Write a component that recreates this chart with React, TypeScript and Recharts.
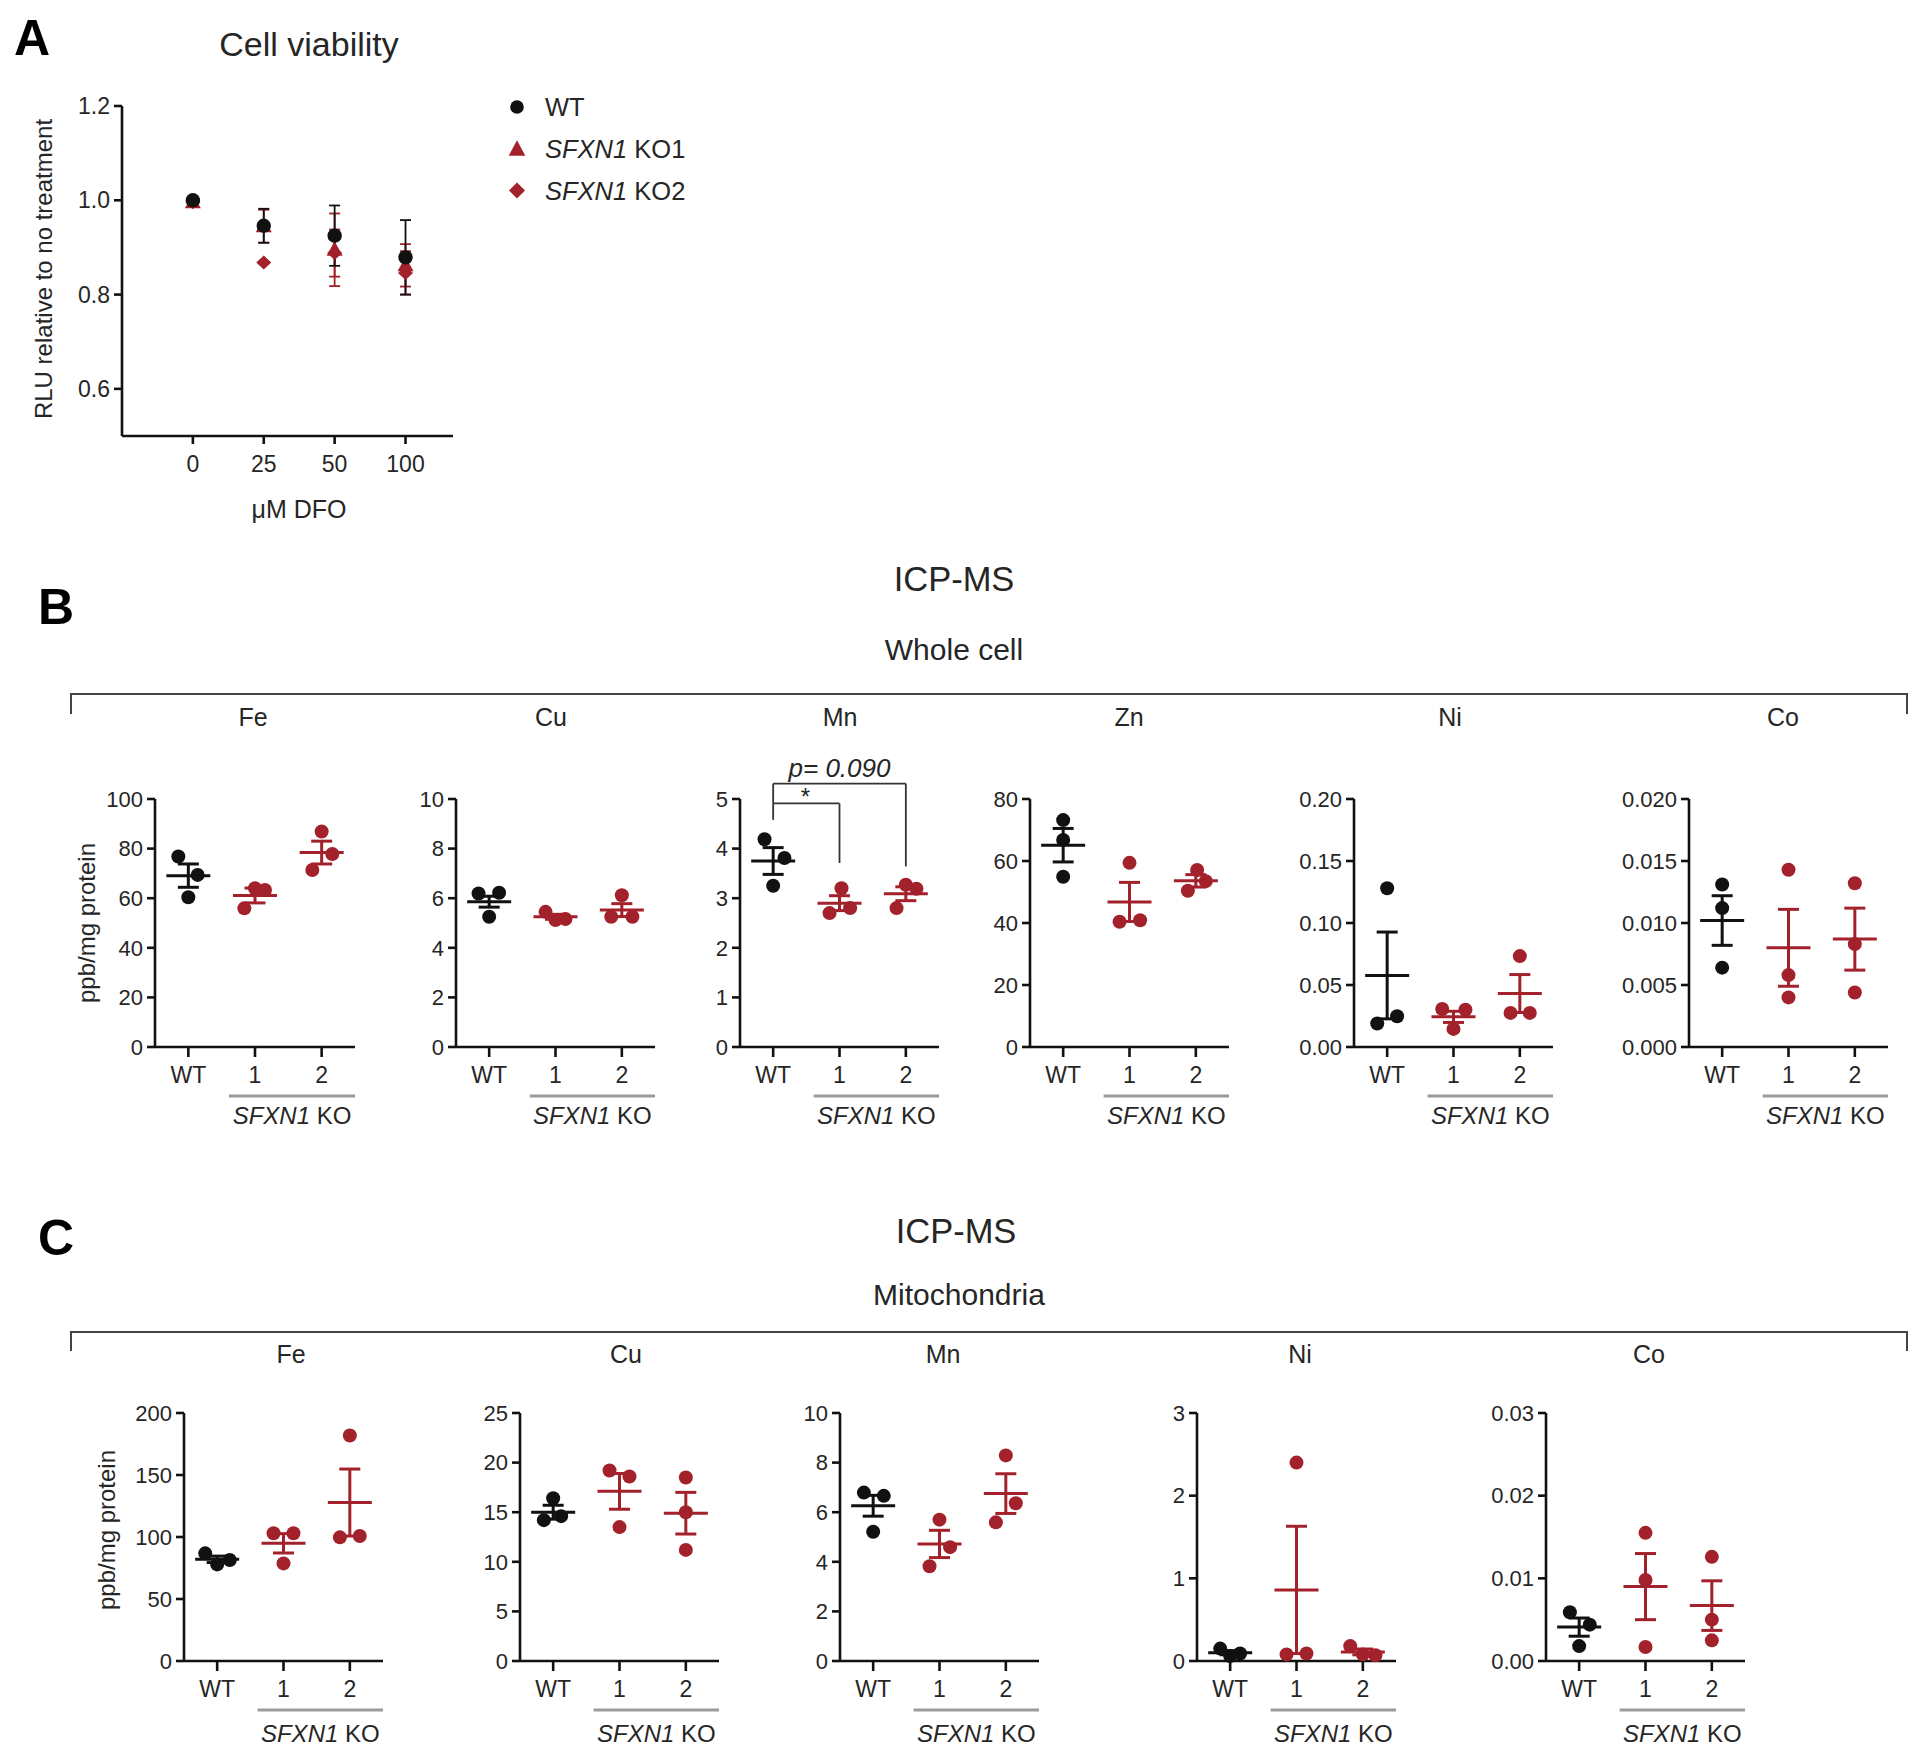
import React from 'react';
import { ScatterChart, Scatter, XAxis, YAxis, ErrorBar, ReferenceLine, ReferenceDot, Legend } from 'recharts';

const FONT = '"Liberation Sans", Arial, Helvetica, sans-serif';
const INK = '#111111';
const TXT = '#262626';
const RED = '#A3212B';
const GREY = '#9b9b9b';

const GROUPS = ['WT', '1', '2'];
const GROUP_COLORS = [INK, RED, RED];

// ---------- Panel A : cell viability ----------
const DFO_DOSES = ['0', '25', '50', '100'];
const A_Y_TICKS = [0.6, 0.8, 1.0, 1.2];
const A_SERIES = ['WT', 'SFXN1 KO1', 'SFXN1 KO2'];
const A_WT = [1.0, 0.946, 0.925, 0.879];
const A_WT_SEM = [0.004, 0.036, 0.064, 0.079];
const A_KO1 = [0.996, 0.945, 0.895, 0.862];
const A_KO1_SEM = [0.008, 0.035, 0.077, 0.045];
const A_KO2 = [0.996, 0.868, 0.888, 0.846];
const A_KO2_SEM = [0.006, 0.002, 0.05, 0.046];

// ---------- Panel B : whole cell ----------
const B_FE = [[76.8, 69.4, 60.4], [55.9, 64.0, 63.3], [86.9, 77.8, 71.4]];
const B_FE_MEAN = [69.1, 61.1, 78.4];
const B_FE_SEM = [4.7, 3.0, 4.6];
const B_CU = [[6.19, 6.22, 5.25], [5.45, 5.12, 5.16], [6.12, 5.25, 5.25]];
const B_CU_MEAN = [5.86, 5.25, 5.52];
const B_CU_SEM = [0.22, 0.1, 0.26];
const B_MN = [[4.19, 3.81, 3.25], [3.2, 2.7, 2.8], [3.27, 3.19, 2.8]];
const B_MN_MEAN = [3.75, 2.9, 3.09];
const B_MN_SEM = [0.27, 0.15, 0.14];
const B_ZN = [[73.2, 66.8, 54.9], [59.4, 40.4, 40.9], [57.1, 53.5, 50.4]];
const B_ZN_MEAN = [65.1, 46.8, 53.6];
const B_ZN_SEM = [5.4, 6.3, 2.0];
const B_NI = [[0.128, 0.0248, 0.019], [0.0307, 0.03, 0.0146], [0.0733, 0.0275, 0.0275]];
const B_NI_MEAN = [0.0577, 0.0243, 0.0431];
const B_NI_SEM = [0.035, 0.0045, 0.0153];
const B_CO = [[0.0131, 0.0112, 0.0064], [0.0143, 0.0058, 0.004], [0.0132, 0.0083, 0.0044]];
const B_CO_MEAN = [0.0102, 0.008, 0.0087];
const B_CO_SEM = [0.002, 0.0031, 0.0025];
const MN_SIG = [
  { from: 0, to: 1, y: 4.91, drops: [4.58, 3.71], label: '*', labelX: 0.47, labelY: 5.07 },
  { from: 0, to: 2, y: 5.31, drops: [4.91, 3.64], label: 'p= 0.090', labelX: 1.0, labelY: 5.63 },
];

// ---------- Panel C : mitochondria ----------
const C_FE = [[86.8, 77.9, 81.4], [103, 103, 78.7], [181.9, 99.7, 100.8]];
const C_FE_MEAN = [82.0, 94.9, 127.8];
const C_FE_SEM = [2.6, 7.8, 27.0];
const C_CU = [[16.4, 14.6, 14.2], [19.2, 18.6, 13.5], [18.5, 15.0, 11.2]];
const C_CU_MEAN = [15.0, 17.1, 14.9];
const C_CU_SEM = [0.7, 1.8, 2.1];
const C_MN = [[6.79, 6.66, 5.21], [5.7, 4.59, 3.82], [8.29, 6.36, 5.59]];
const C_MN_MEAN = [6.26, 4.72, 6.75];
const C_MN_SEM = [0.42, 0.55, 0.8];
const C_NI = [[0.15, 0.09, 0.06], [2.4, 0.08, 0.09], [0.18, 0.08, 0.07]];
const C_NI_MEAN = [0.1, 0.86, 0.11];
const C_NI_SEM = [0.025, 0.77, 0.035];
const C_CO = [[0.0059, 0.0044, 0.0018], [0.0155, 0.0098, 0.0017], [0.0126, 0.005, 0.0025]];
const C_CO_MEAN = [0.0041, 0.009, 0.0067];
const C_CO_SEM = [0.0011, 0.004, 0.003];

// ---------- layout (not data) ----------
const J0 = [[0, 0, 0], [0, 0, 0], [0, 0, 0]];
const JIT = {
  bFe: [[-0.15, 0.14, 0], [-0.16, 0, 0.15], [0, 0.16, -0.14]],
  bCu: [[-0.16, 0.15, 0], [-0.15, 0, 0.15], [0, -0.16, 0.16]],
  bMn: [[-0.13, 0.17, 0], [0.03, -0.15, 0.16], [0, 0.16, -0.14]],
  bZn: [[0, 0, 0], [0, -0.15, 0.16], [0.02, 0.15, -0.12]],
  bNi: [[0, 0.15, -0.15], [-0.17, 0.18, 0], [0, -0.14, 0.15]],
  cFe: [[-0.18, 0, 0.19], [-0.15, 0.15, 0], [0, -0.15, 0.15]],
  cCu: [[0, 0.12, -0.14], [-0.15, 0.15, 0], [0, 0, 0]],
  cMn: [[-0.14, 0.16, 0], [0, 0.16, -0.15], [0, 0.15, -0.15]],
  cNi: [[-0.15, 0.15, 0], [0, -0.15, 0.15], [-0.19, 0, 0.19]],
  cCo: [[-0.14, 0.16, 0], [0, 0, 0], [0, 0, 0]],
};

const B_TOP = 799, C_TOP = 1413, PH = 248, BW = 199, CW = 199;

const SUBPLOTS = [
  { el: 'Fe', elX: 253, axisX: 155, top: B_TOP, w: 200, yMax: 100, ticks: [0, 20, 40, 60, 80, 100], dec: 0, pts: B_FE, mean: B_FE_MEAN, sem: B_FE_SEM, jit: JIT.bFe },
  { el: 'Cu', elX: 551, axisX: 456, top: B_TOP, w: BW, yMax: 10, ticks: [0, 2, 4, 6, 8, 10], dec: 0, pts: B_CU, mean: B_CU_MEAN, sem: B_CU_SEM, jit: JIT.bCu },
  { el: 'Mn', elX: 840, axisX: 740, top: B_TOP, w: BW, yMax: 5, ticks: [0, 1, 2, 3, 4, 5], dec: 0, pts: B_MN, mean: B_MN_MEAN, sem: B_MN_SEM, jit: JIT.bMn, sig: MN_SIG },
  { el: 'Zn', elX: 1129, axisX: 1030, top: B_TOP, w: BW, yMax: 80, ticks: [0, 20, 40, 60, 80], dec: 0, pts: B_ZN, mean: B_ZN_MEAN, sem: B_ZN_SEM, jit: JIT.bZn },
  { el: 'Ni', elX: 1450, axisX: 1354, top: B_TOP, w: BW, yMax: 0.2, ticks: [0, 0.05, 0.1, 0.15, 0.2], dec: 2, pts: B_NI, mean: B_NI_MEAN, sem: B_NI_SEM, jit: JIT.bNi },
  { el: 'Co', elX: 1783, axisX: 1689, top: B_TOP, w: BW, yMax: 0.02, ticks: [0, 0.005, 0.01, 0.015, 0.02], dec: 3, pts: B_CO, mean: B_CO_MEAN, sem: B_CO_SEM, jit: J0 },
  { el: 'Fe', elX: 291, axisX: 184, top: C_TOP, w: CW, yMax: 200, ticks: [0, 50, 100, 150, 200], dec: 0, pts: C_FE, mean: C_FE_MEAN, sem: C_FE_SEM, jit: JIT.cFe },
  { el: 'Cu', elX: 626, axisX: 520, top: C_TOP, w: CW, yMax: 25, ticks: [0, 5, 10, 15, 20, 25], dec: 0, pts: C_CU, mean: C_CU_MEAN, sem: C_CU_SEM, jit: JIT.cCu },
  { el: 'Mn', elX: 943, axisX: 840, top: C_TOP, w: CW, yMax: 10, ticks: [0, 2, 4, 6, 8, 10], dec: 0, pts: C_MN, mean: C_MN_MEAN, sem: C_MN_SEM, jit: JIT.cMn },
  { el: 'Ni', elX: 1300, axisX: 1197, top: C_TOP, w: CW, yMax: 3, ticks: [0, 1, 2, 3], dec: 0, pts: C_NI, mean: C_NI_MEAN, sem: C_NI_SEM, jit: JIT.cNi },
  { el: 'Co', elX: 1649, axisX: 1546, top: C_TOP, w: CW, yMax: 0.03, ticks: [0, 0.01, 0.02, 0.03], dec: 2, pts: C_CO, mean: C_CO_MEAN, sem: C_CO_SEM, jit: JIT.cCo },
];

const dotShape = (color: string, r: number) => (p: any) => <circle cx={p.cx} cy={p.cy} r={r} fill={color} />;
const meanShape = (color: string) => (p: any) => (
  <line x1={p.cx - 22} x2={p.cx + 22} y1={p.cy} y2={p.cy} stroke={color} strokeWidth={3} />
);
const triShape = (color: string) => (p: any) => (
  <polygon points={`${p.cx},${p.cy - 8.5} ${p.cx - 8},${p.cy + 6} ${p.cx + 8},${p.cy + 6}`} fill={color} />
);
const diaShape = (color: string) => (p: any) => (
  <polygon points={`${p.cx},${p.cy - 7} ${p.cx + 7.5},${p.cy} ${p.cx},${p.cy + 7} ${p.cx - 7.5},${p.cy}`} fill={color} />
);

const axisLineStyle = { stroke: INK, strokeWidth: 2.6 };

function Subplot({ cfg }: { cfg: any }) {
  const ML = 90, MT = 75, MR = 12, MB = 45;
  const ptsData = cfg.pts.map((arr: number[], g: number) => arr.map((y, i) => ({ x: g + cfg.jit[g][i], y })));
  const meanData = cfg.mean.map((m: number, g: number) => ({ x: g, y: m, e: cfg.sem[g] }));
  return (
    <div style={{ position: 'absolute', left: cfg.axisX - ML, top: cfg.top - MT }}>
      <ScatterChart width={ML + cfg.w + MR} height={MT + PH + MB} margin={{ top: MT, right: MR, bottom: 0, left: 0 }}>
        <XAxis
          type="number" dataKey="x" domain={[-0.5, 2.5]} ticks={[0, 1, 2]} interval={0}
          tickFormatter={(v: number) => GROUPS[v]} height={MB} tickSize={10} tickMargin={10}
          axisLine={axisLineStyle} tickLine={axisLineStyle}
          tick={{ fill: TXT, fontSize: 23, fontFamily: FONT }}
        />
        <YAxis
          type="number" dataKey="y" domain={[0, cfg.yMax]} ticks={cfg.ticks} interval={0}
          width={ML} tickSize={8} tickMargin={4}
          tickFormatter={(v: number) => v.toFixed(cfg.dec)}
          axisLine={axisLineStyle} tickLine={axisLineStyle}
          tick={{ fill: TXT, fontSize: 22, fontFamily: FONT }}
        />
        {ptsData.map((d: any[], g: number) => (
          <Scatter key={'p' + g} data={d} fill={GROUP_COLORS[g]} shape={dotShape(GROUP_COLORS[g], 7)} isAnimationActive={false} />
        ))}
        {meanData.map((d: any, g: number) => (
          <Scatter key={'m' + g} data={[d]} fill={GROUP_COLORS[g]} shape={meanShape(GROUP_COLORS[g])} isAnimationActive={false}>
            <ErrorBar dataKey="e" direction="y" width={10.5} stroke={GROUP_COLORS[g]} strokeWidth={3} isAnimationActive={false} />
          </Scatter>
        ))}
        {cfg.sig && cfg.sig.map((s: any, k: number) => [
          <ReferenceLine key={'h' + k} segment={[{ x: s.from, y: s.y }, { x: s.to, y: s.y }]} stroke="#333" strokeWidth={1.8} ifOverflow="visible" />,
          <ReferenceLine key={'a' + k} segment={[{ x: s.from, y: s.y }, { x: s.from, y: s.drops[0] }]} stroke="#333" strokeWidth={1.8} ifOverflow="visible" />,
          <ReferenceLine key={'b' + k} segment={[{ x: s.to, y: s.y }, { x: s.to, y: s.drops[1] }]} stroke="#333" strokeWidth={1.8} ifOverflow="visible" />,
          <ReferenceDot key={'t' + k} x={s.labelX} y={s.labelY} r={0} ifOverflow="visible"
            shape={(p: any) => (
              <text x={p.cx} y={p.cy + 9} textAnchor="middle" fontSize={s.label === '*' ? 24 : 26} fontStyle="italic" fontFamily={FONT} fill={TXT}>{s.label}</text>
            )}
          />,
        ])}
      </ScatterChart>
    </div>
  );
}

const LegendA = () => {
  const shapes = [
    (cy: number) => <circle cx={12} cy={cy} r={6.8} fill={INK} />,
    (cy: number) => <polygon points={`12,${cy - 8.5} 3.7,${cy + 7} 20.3,${cy + 7}`} fill={RED} />,
    (cy: number) => <polygon points={`12,${cy - 8} 20,${cy} 12,${cy + 8} 4,${cy}`} fill={RED} />,
  ];
  return (
    <svg width={250} height={140} fontFamily={FONT}>
      {A_SERIES.map((name, i) => {
        const cy = 20 + i * 41.7;
        const parts = name.split(' ');
        return (
          <g key={name}>
            {shapes[i](cy)}
            <text x={40} y={cy + 9.2} fontSize={25.5} fill={TXT}>
              {parts.length > 1 ? (
                <>
                  <tspan fontStyle="italic">{parts[0]}</tspan> {parts[1]}
                </>
              ) : name}
            </text>
          </g>
        );
      })}
    </svg>
  );
};

function PanelA() {
  const AX = 122, ATOP = 106, AW = 331, AH = 330, CWID = 760, CH = 540;
  const mk = (vals: number[], sems: number[]) => vals.map((y, i) => ({ x: i, y, e: sems[i] }));
  return (
    <div style={{ position: 'absolute', left: 0, top: 0 }}>
      <ScatterChart width={CWID} height={CH} margin={{ top: ATOP, right: CWID - AX - AW, bottom: 0, left: 0 }}>
        <XAxis
          type="number" dataKey="x" domain={[-1, 3.67]} ticks={[0, 1, 2, 3]} interval={0}
          tickFormatter={(v: number) => DFO_DOSES[v]} height={CH - ATOP - AH} tickSize={8} tickMargin={12}
          axisLine={axisLineStyle} tickLine={axisLineStyle}
          tick={{ fill: TXT, fontSize: 23, fontFamily: FONT }}
        />
        <YAxis
          type="number" dataKey="y" domain={[0.5, 1.2]} ticks={A_Y_TICKS} interval={0}
          width={AX} tickSize={8} tickMargin={4} tickFormatter={(v: number) => v.toFixed(1)}
          axisLine={axisLineStyle} tickLine={axisLineStyle}
          tick={{ fill: TXT, fontSize: 23, fontFamily: FONT }}
        />
        <Legend layout="vertical" align="center" verticalAlign="middle" content={() => <LegendA />}
          wrapperStyle={{ position: 'absolute', left: 505, top: 87, width: 250, height: 140 }} />
        <Scatter name="SFXN1 KO2" data={mk(A_KO2, A_KO2_SEM)} fill={RED} shape={diaShape(RED)} isAnimationActive={false}>
          <ErrorBar dataKey="e" direction="y" width={5.5} stroke={RED} strokeWidth={1.8} isAnimationActive={false} />
        </Scatter>
        <Scatter name="SFXN1 KO1" data={mk(A_KO1, A_KO1_SEM)} fill={RED} shape={triShape(RED)} isAnimationActive={false}>
          <ErrorBar dataKey="e" direction="y" width={5.5} stroke={RED} strokeWidth={1.8} isAnimationActive={false} />
        </Scatter>
        <Scatter name="WT" data={mk(A_WT, A_WT_SEM)} fill={INK} shape={dotShape(INK, 7.2)} isAnimationActive={false}>
          <ErrorBar dataKey="e" direction="y" width={5.5} stroke={INK} strokeWidth={1.8} isAnimationActive={false} />
        </Scatter>
      </ScatterChart>
    </div>
  );
}

function Overlay() {
  const t = (x: number, cy: number, size: number, s: React.ReactNode, opts: any = {}) => (
    <text x={x} y={cy + 0.358 * size} fontSize={size} textAnchor="middle" fill={opts.fill || TXT} fontWeight={opts.bold ? 'bold' : 'normal'}>{s}</text>
  );
  const rot = (x: number, cy: number, size: number, s: string) => (
    <text transform={`translate(${x},${cy}) rotate(-90)`} y={0.358 * size} fontSize={size} textAnchor="middle" fill={TXT}>{s}</text>
  );
  return (
    <svg width={1920} height={1755} style={{ position: 'absolute', left: 0, top: 0, pointerEvents: 'none' }} fontFamily={FONT}>
      {t(32, 37, 50, 'A', { bold: true, fill: '#000' })}
      {t(56, 606, 50, 'B', { bold: true, fill: '#000' })}
      {t(56, 1237, 50, 'C', { bold: true, fill: '#000' })}
      {t(309, 44, 34, 'Cell viability')}
      {rot(43, 269, 24, 'RLU relative to no treatment')}
      {t(299, 509, 25, 'μM DFO')}
      {t(954, 579, 34.5, 'ICP-MS')}
      {t(954, 649, 30, 'Whole cell')}
      {t(956, 1231, 34.5, 'ICP-MS')}
      {t(959, 1294, 30, 'Mitochondria')}
      <path d="M71 714 V694 H1907 V714" stroke="#444" strokeWidth={2} fill="none" />
      <path d="M71 1351 V1332 H1907 V1351" stroke="#444" strokeWidth={2} fill="none" />
      {rot(86, 923, 24, 'ppb/mg protein')}
      {rot(106, 1530, 24, 'ppb/mg protein')}
      {SUBPLOTS.map((s, i) => {
        const bottom = s.top + PH;
        const isB = s.top === B_TOP;
        return (
          <g key={i}>
            {t(s.elX, isB ? 717 : 1354, 25, s.el)}
            <line x1={s.axisX + s.w * 0.37} x2={s.axisX + s.w} y1={bottom + 49} y2={bottom + 49} stroke={GREY} strokeWidth={3} />
            <text x={s.axisX + s.w * 0.685} y={bottom + (isB ? 68 : 72) + 8.6} fontSize={24} textAnchor="middle" fill={TXT}>
              <tspan fontStyle="italic">SFXN1</tspan> KO
            </text>
          </g>
        );
      })}
    </svg>
  );
}

export default function App() {
  return (
    <div style={{ position: 'absolute', left: 0, top: 0, width: 1920, height: 1755, background: '#ffffff', fontFamily: FONT }}>
      <Overlay />
      <PanelA />
      {SUBPLOTS.map((s, i) => <Subplot key={i} cfg={s} />)}
    </div>
  );
}
